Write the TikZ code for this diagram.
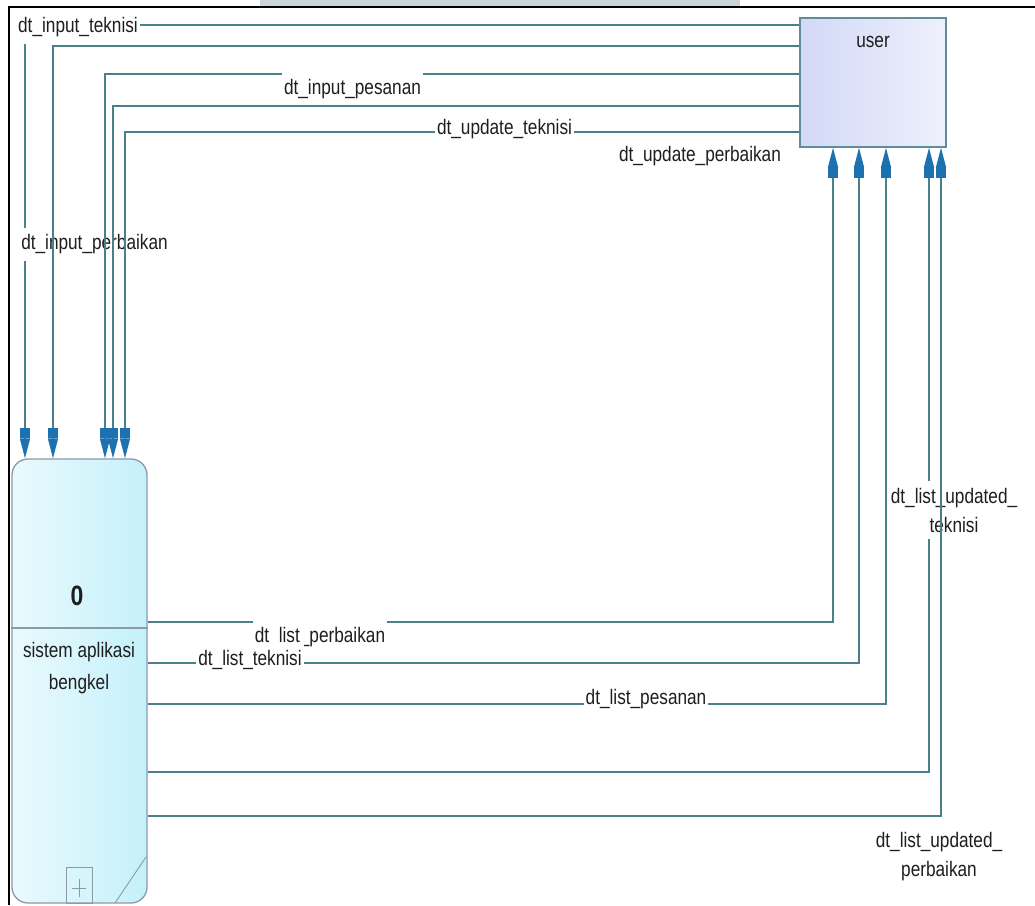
\documentclass[tikz,border=0pt]{standalone}
\usepackage{fontspec}
\setmainfont{Liberation Sans}
\newfontfamily\lab[FakeStretch=0.82]{Liberation Sans}
\usetikzlibrary{arrows.meta}
\definecolor{flowc}{HTML}{4A7F8C}
\definecolor{arrowc}{HTML}{1C72B0}
\definecolor{userA}{HTML}{D3D8F6}
\definecolor{userB}{HTML}{EEF0FC}
\definecolor{userD}{HTML}{5F8D99}
\definecolor{procA}{HTML}{EAFAFD}
\definecolor{procB}{HTML}{C4F1FA}
\definecolor{procD}{HTML}{8C9AA8}
\definecolor{txtc}{HTML}{1E1E1E}
\definecolor{topgray}{HTML}{C8D5DC}
\begin{document}
\begin{tikzpicture}[x=1pt,y=-1pt,
  flow/.style={draw=flowc,line width=1.5pt,
    -{Rectangle[length=10pt,width=10pt,color=arrowc]Triangle[length=20pt,width=10pt,color=arrowc]}},
  lbl/.style={font=\lab\fontsize{21}{29}\selectfont, text=txtc, fill=white, inner xsep=2pt, inner ysep=7pt, align=center},
  plain/.style={font=\lab\fontsize{21}{29}\selectfont, text=txtc, inner sep=0pt, align=center},
  userbox/.style={draw=userD, line width=1.5pt, left color=userA, right color=userB, minimum width=146pt, minimum height=129pt, inner sep=0pt},
  procbox/.style={draw=procD, line width=1.3pt, left color=procA, right color=procB, rounded corners=16pt, minimum width=135pt, minimum height=444pt, inner sep=0pt},
  procline/.style={draw=procD, line width=1.1pt},
]
\useasboundingbox[fill=white] (0,0) rectangle (1035,905);
\fill[topgray] (260,0) rectangle (740,6.5);

% entities
\node[userbox] (user) at (873,82.5) {};
\node[plain] (usertxt) at (873,42) {user};
\node[procbox] (proc) at (79.5,681) {};
\draw[procline] (proc.west |- 0,628) -- (proc.east |- 0,628);
\node[plain,font=\lab\bfseries\fontsize{28}{30}\selectfont] (pnum) at (77,595.5) {0};
\node[plain,font=\lab\fontsize{21}{32}\selectfont] (pname) at (79,668) {sistem aplikasi\\bengkel};
\draw[procline,line width=0.9pt] (66,867) rectangle (92,903);
\draw[procline,line width=0.9pt] (72,888) -- (86,888) (79,879) -- (79,897);
\draw[procline,line width=0.9pt] (146,857) -- (115,903);

% flows user -> process
\draw[flow] (user.west |- 0,25) -- (25,25) -- (proc.north -| 25,0)
  node[lbl] at (78,27.5) {dt\_input\_teknisi}
  node[lbl] at (94.5,244.5) {dt\_input\_perbaikan};
\draw[flow] (user.west |- 0,46) -- (53,46) -- (proc.north -| 53,0);
\draw[flow] (user.west |- 0,74) -- (105,74) -- (proc.north -| 105,0)
  node[lbl] at (352.5,89.5) {dt\_input\_pesanan};
\draw[flow] (user.west |- 0,106) -- (113,106) -- (proc.north -| 113,0)
  node[plain] at (700,156.5) {dt\_update\_perbaikan};
\draw[flow] (user.west |- 0,132) -- (125,132) -- (proc.north -| 125,0)
  node[lbl] at (504.5,129.5) {dt\_update\_teknisi};

% flows process -> user
\draw[flow] (proc.east |- 0,622) -- (833,622) -- (user.south -| 833,0)
  node[lbl] at (320,637.5) {dt\_list\_perbaikan};
\draw[flow] (proc.east |- 0,663) -- (859,663) -- (user.south -| 859,0)
  node[lbl] at (250,659.5) {dt\_list\_teknisi};
\draw[flow] (proc.east |- 0,704) -- (886,704) -- (user.south -| 886,0)
  node[lbl] at (646,699.5) {dt\_list\_pesanan};
\draw[flow] (proc.east |- 0,772) -- (929,772) -- (user.south -| 929,0)
  node[lbl] at (954,510) {dt\_list\_updated\_\\teknisi};
\draw[flow] (proc.east |- 0,816) -- (941,816) -- (user.south -| 941,0)
  node[plain] at (939,857) {dt\_list\_updated\_\\perbaikan};

% frame
\draw[black,line width=2pt] (9,905) -- (9,7) -- (1035,7);
\end{tikzpicture}
\end{document}
